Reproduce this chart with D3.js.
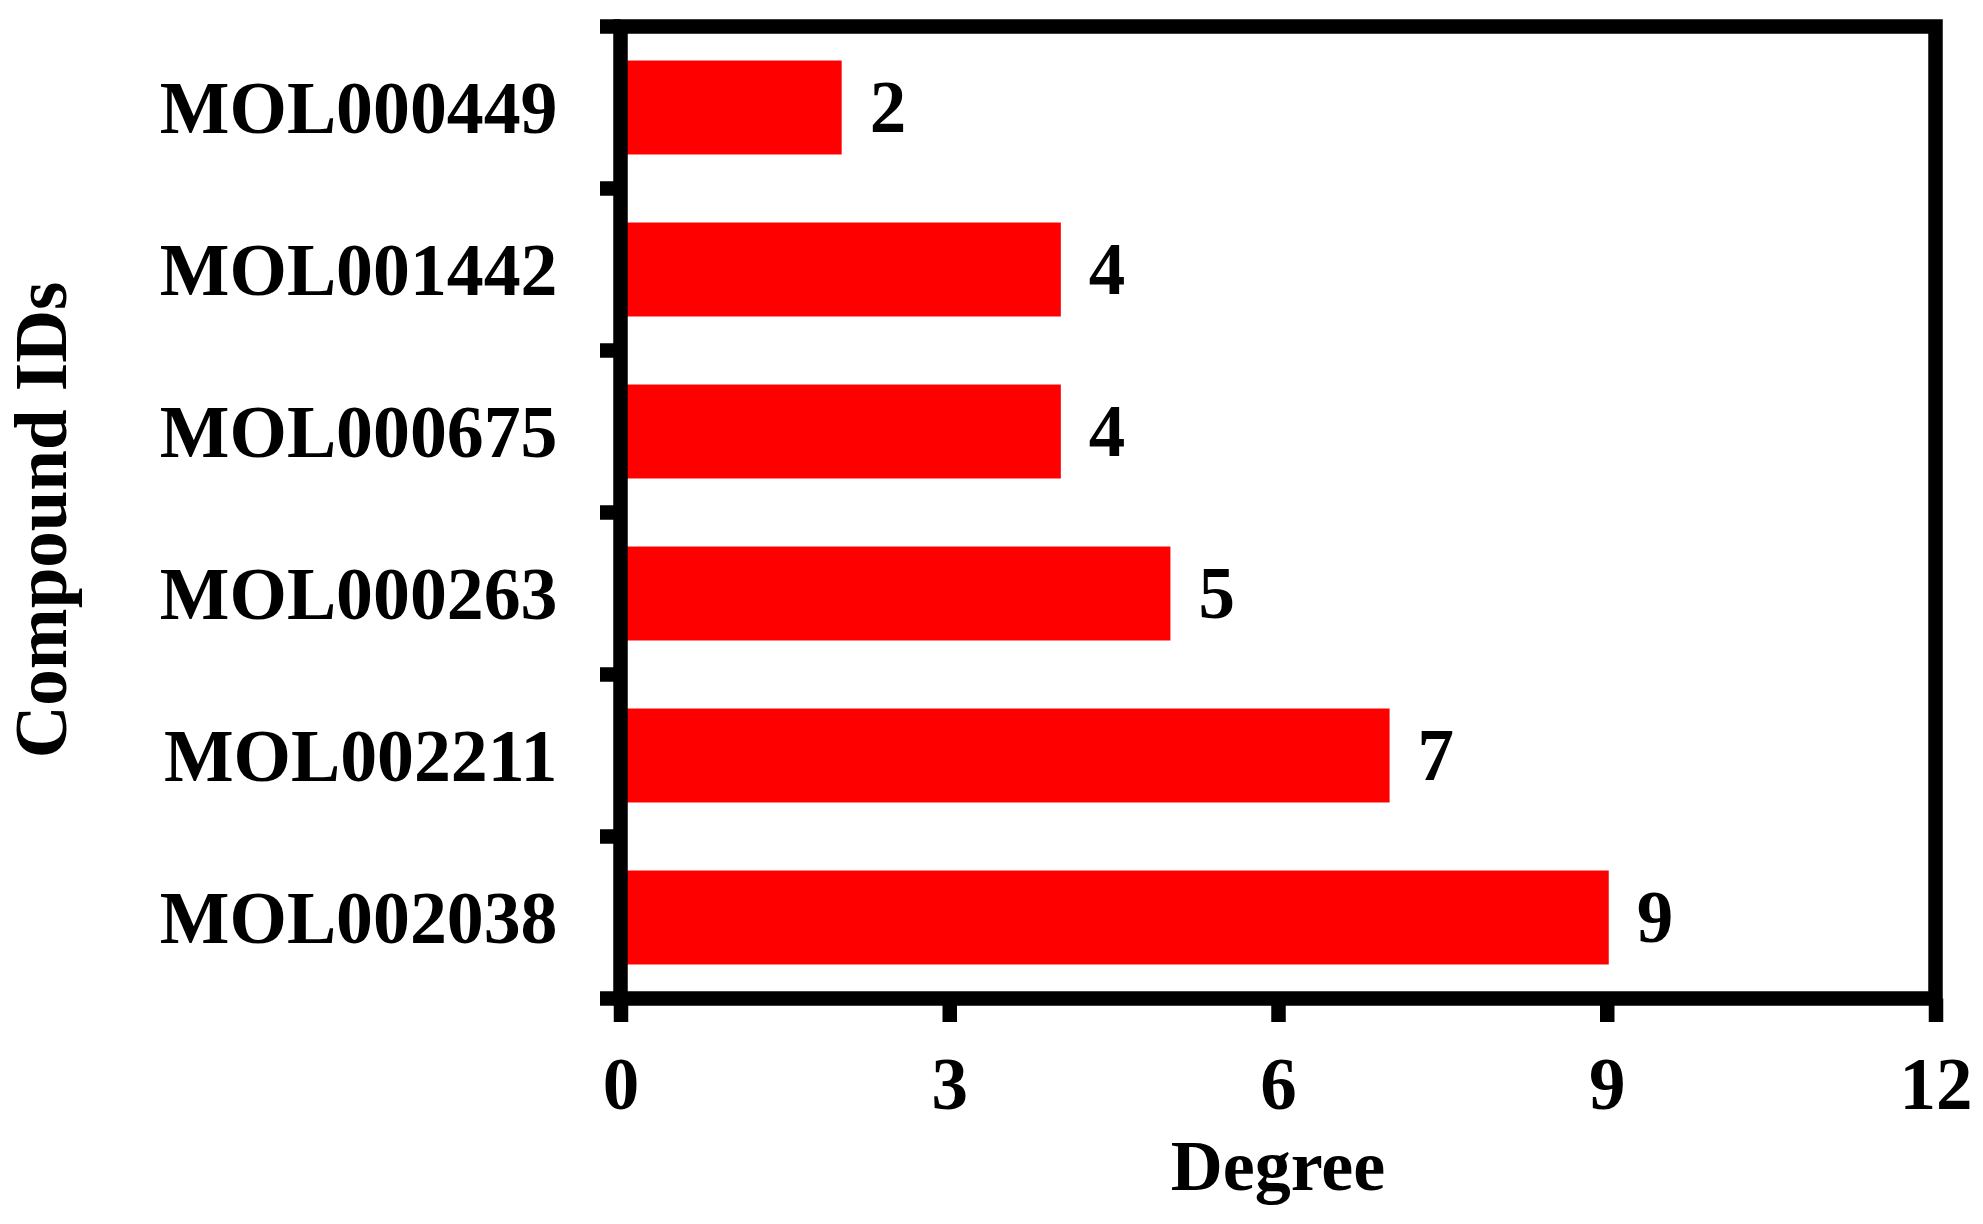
<!DOCTYPE html>
<html>
<head>
<meta charset="utf-8">
<script src="https://cdn.jsdelivr.net/npm/d3@7"></script>
<style>
  html, body { margin: 0; padding: 0; background: #fff; }
  svg { display: block; }
  text { font-family: "Liberation Serif", "Times New Roman", Times, serif; font-weight: bold; fill: #000; }
</style>
</head>
<body>
<svg id="chart" width="1983" height="1224"></svg>
<script>
const categories = ["MOL000449", "MOL001442", "MOL000675", "MOL000263", "MOL002211", "MOL002038"];
const values = [2, 4, 4, 5, 7, 9];
const xTicks = [0, 3, 6, 9, 12];
const xTitle = "Degree";
const yTitle = "Compound IDs";

const W = 1983, H = 1224;
const m = { left: 620.5, right: W - 1935.5, top: 26.5, bottom: H - 998.5 };
const svg = d3.select("#chart");
const iw = W - m.left - m.right, ih = H - m.top - m.bottom;
const g = svg.append("g").attr("transform", `translate(${m.left},${m.top})`);

const x = d3.scaleLinear().domain([0, 12]).range([0, iw]);
const y = d3.scaleBand().domain(categories).range([0, ih]).paddingInner(0.42).paddingOuter(0.21);

const SW = 14.5;
const FS = 73;

// bars
g.selectAll("rect.bar").data(values).enter().append("rect")
  .attr("class", "bar")
  .attr("x", x(0))
  .attr("y", (d, i) => y(categories[i]))
  .attr("width", d => x(d) + 2)
  .attr("height", y.bandwidth())
  .attr("fill", "#ff0000");

// value labels
g.selectAll("text.val").data(values).enter().append("text")
  .attr("class", "val")
  .attr("x", d => x(d) + 30)
  .attr("y", (d, i) => y(categories[i]) + y.bandwidth() / 2)
  .attr("dy", "0.34em")
  .attr("font-size", FS)
  .text(d => d);

// y axis labels via d3 axis
const yAxis = g.append("g").call(d3.axisLeft(y).tickSize(0).tickPadding(63));
yAxis.select(".domain").remove();
yAxis.selectAll("text")
  .attr("font-size", 73.8)
  .attr("font-family", null)
  .attr("dy", "0.34em");

// x axis labels + ticks via d3 axis
const xAxis = g.append("g").attr("transform", `translate(0,${ih})`)
  .call(d3.axisBottom(x).tickValues(xTicks).tickSizeOuter(0).tickSizeInner(23.5).tickPadding(0));
xAxis.select(".domain").remove();
xAxis.selectAll(".tick line").attr("stroke", "#000").attr("stroke-width", SW);
xAxis.selectAll(".tick text")
  .attr("font-size", FS)
  .attr("font-family", null)
  .attr("dy", null)
  .attr("y", 1108.5 - 998.5);

// y ticks at band boundaries
const bounds = d3.range(categories.length + 1).map(i => i * (ih / categories.length));
g.selectAll("line.ytick").data(bounds).enter().append("line")
  .attr("class", "ytick")
  .attr("x1", -20.5).attr("x2", 0)
  .attr("y1", d => d).attr("y2", d => d)
  .attr("stroke", "#000").attr("stroke-width", SW);

// frame
g.append("rect")
  .attr("x", 0).attr("y", 0).attr("width", iw).attr("height", ih)
  .attr("fill", "none").attr("stroke", "#000").attr("stroke-width", SW)
  .attr("stroke-linejoin", "miter");

// titles
svg.append("text")
  .attr("x", m.left + iw / 2).attr("y", 1190)
  .attr("text-anchor", "middle")
  .attr("font-size", 72)
  .text(xTitle);

svg.append("text")
  .attr("transform", "translate(66,520) rotate(-90)")
  .attr("text-anchor", "middle")
  .attr("font-size", 73)
  .text(yTitle);
</script>
</body>
</html>
